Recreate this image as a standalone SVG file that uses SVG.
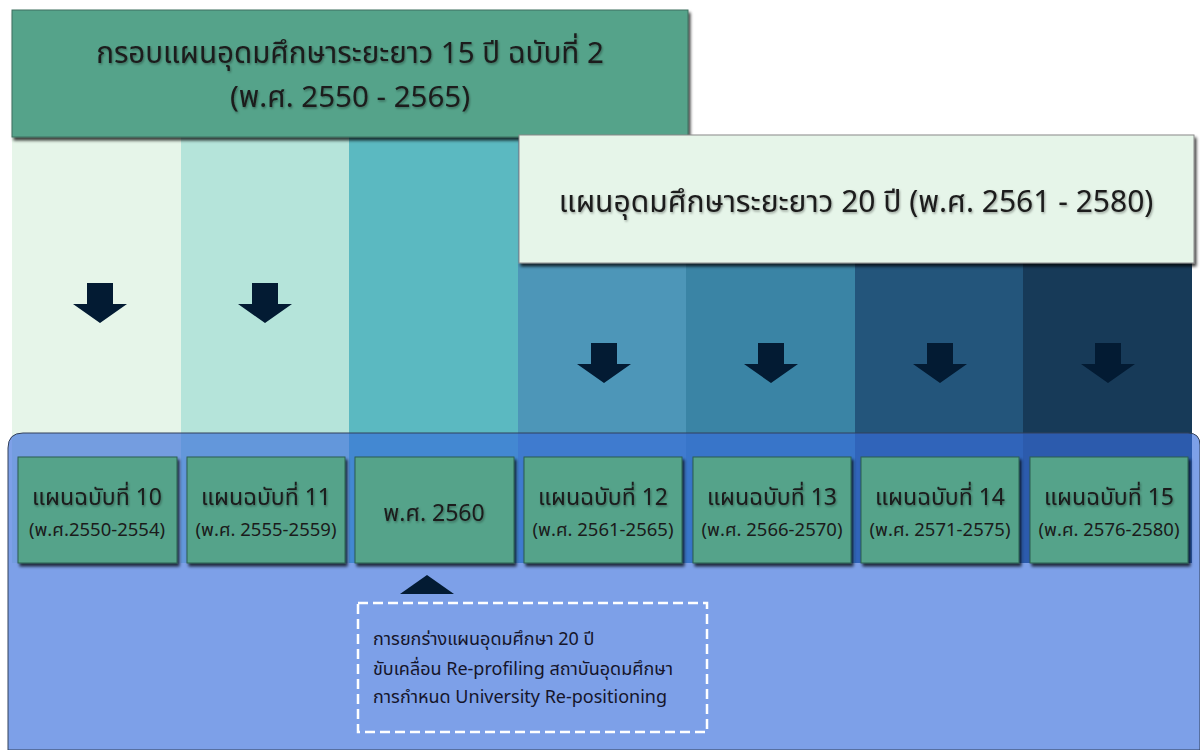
<svg xmlns="http://www.w3.org/2000/svg" width="1200" height="750" viewBox="0 0 1200 750">
<defs>
<filter id="sh" x="-5%" y="-5%" width="115%" height="120%">
<feDropShadow dx="2" dy="3" stdDeviation="1.5" flood-color="#000" flood-opacity="0.75"/>
</filter>
<filter id="tsh" x="-5%" y="-20%" width="110%" height="150%">
<feDropShadow dx="1" dy="1.5" stdDeviation="0.8" flood-color="#000" flood-opacity="0.35"/>
</filter>
<style>
.t{font-family:"Noto Sans Thai","Noto Sans","DejaVu Sans",sans-serif;fill:#1b1b1b;text-anchor:middle}
.box{fill:#55a38a;stroke:#2f5f50;stroke-width:1}
.arr{fill:#031b33}
.l1{font-size:23px}
.l2{font-size:18.5px}
.note{font-family:"Noto Sans Thai","Noto Sans","DejaVu Sans",sans-serif;fill:#15152a;font-size:18px}
</style>
</defs>
<rect width="1200" height="750" fill="#ffffff"/>
<g id="columns">
<rect x="12" y="135" width="170" height="428" fill="#e6f5e9"/>
<rect x="181" y="135" width="169" height="428" fill="#b5e4da"/>
<rect x="349" y="135" width="170" height="428" fill="#5bb9c1"/>
<rect x="518" y="135" width="169" height="428" fill="#4d96b8"/>
<rect x="686" y="135" width="170" height="428" fill="#3a84a5"/>
<rect x="855" y="135" width="169" height="428" fill="#23557b"/>
<rect x="1023" y="135" width="169" height="428" fill="#173a58"/>
</g>
<g id="panel">
<path d="M8,448 Q8,433 23,433 L1188,433 Q1200,433 1200,445 L1200,750 L8,750 Z" fill="#376ddc" fill-opacity="0.65" stroke="#33415a" stroke-width="1"/>
</g>
<g id="title15">
<rect x="12" y="10" width="676" height="127" fill="#55a38a" stroke="#3c6e5e" stroke-width="1" filter="url(#sh)"/>
<text class="t" x="350" y="63" font-size="29.5" filter="url(#tsh)">กรอบแผนอุดมศึกษาระยะยาว 15 ปี ฉบับที่ 2</text>
<text class="t" x="350" y="107" font-size="29.5" filter="url(#tsh)">(พ.ศ. 2550 - 2565)</text>
</g>
<g id="title20">
<rect x="519" y="135" width="675" height="128" fill="#e6f5e9" stroke="#8a8a8a" stroke-width="1" filter="url(#sh)"/>
<text class="t" x="856" y="212" font-size="30" filter="url(#tsh)">แผนอุดมศึกษาระยะยาว 20 ปี (พ.ศ. 2561 - 2580)</text>
</g>
<g id="connectors">
<path class="arr" d="M87,283 H113 V304 H127 L100,323 L73,304 H87 Z"/>
<path class="arr" d="M252,283 H278 V304 H292 L265,323 L238,304 H252 Z"/>
<path class="arr" d="M591,343 H617 V364 H631 L604,383 L577,364 H591 Z"/>
<path class="arr" d="M758,343 H784 V364 H798 L771,383 L744,364 H758 Z"/>
<path class="arr" d="M927,343 H953 V364 H967 L940,383 L913,364 H927 Z"/>
<path class="arr" d="M1095,343 H1121 V364 H1135 L1108,383 L1081,364 H1095 Z"/>
<path class="arr" d="M400,594 L427,575 L454,594 Z"/>
</g>
<g id="plan10">
<rect class="box" x="18" y="457" width="159" height="106" filter="url(#sh)"/>
<text class="t l1" x="97" y="505" filter="url(#tsh)">แผนฉบับที่ 10</text>
<text class="t l2" x="97" y="536">(พ.ศ.2550-2554)</text>
</g>
<g id="plan11">
<rect class="box" x="187" y="457" width="158" height="106" filter="url(#sh)"/>
<text class="t l1" x="266" y="505" filter="url(#tsh)">แผนฉบับที่ 11</text>
<text class="t l2" x="266" y="536">(พ.ศ. 2555-2559)</text>
</g>
<g id="y2560">
<rect class="box" x="355" y="457" width="159" height="106" filter="url(#sh)"/>
<text class="t l1" x="434" y="521" filter="url(#tsh)">พ.ศ. 2560</text>
</g>
<g id="plan12">
<rect class="box" x="524" y="457" width="158" height="106" filter="url(#sh)"/>
<text class="t l1" x="603" y="505" filter="url(#tsh)">แผนฉบับที่ 12</text>
<text class="t l2" x="603" y="536">(พ.ศ. 2561-2565)</text>
</g>
<g id="plan13">
<rect class="box" x="693" y="457" width="158" height="106" filter="url(#sh)"/>
<text class="t l1" x="772" y="505" filter="url(#tsh)">แผนฉบับที่ 13</text>
<text class="t l2" x="772" y="536">(พ.ศ. 2566-2570)</text>
</g>
<g id="plan14">
<rect class="box" x="861" y="457" width="158" height="106" filter="url(#sh)"/>
<text class="t l1" x="940" y="505" filter="url(#tsh)">แผนฉบับที่ 14</text>
<text class="t l2" x="940" y="536">(พ.ศ. 2571-2575)</text>
</g>
<g id="plan15">
<rect class="box" x="1030" y="457" width="158" height="106" filter="url(#sh)"/>
<text class="t l1" x="1109" y="505" filter="url(#tsh)">แผนฉบับที่ 15</text>
<text class="t l2" x="1109" y="536">(พ.ศ. 2576-2580)</text>
</g>
<g id="note">
<rect x="358" y="603" width="349" height="129" fill="none" stroke="#ffffff" stroke-width="2.5" stroke-dasharray="10 5"/>
<text class="note" x="373" y="645">การยกร่างแผนอุดมศึกษา 20 ปี</text>
<text class="note" x="373" y="675">ขับเคลื่อน Re-profiling สถาบันอุดมศึกษา</text>
<text class="note" x="373" y="703">การกำหนด University Re-positioning</text>
</g>
</svg>
